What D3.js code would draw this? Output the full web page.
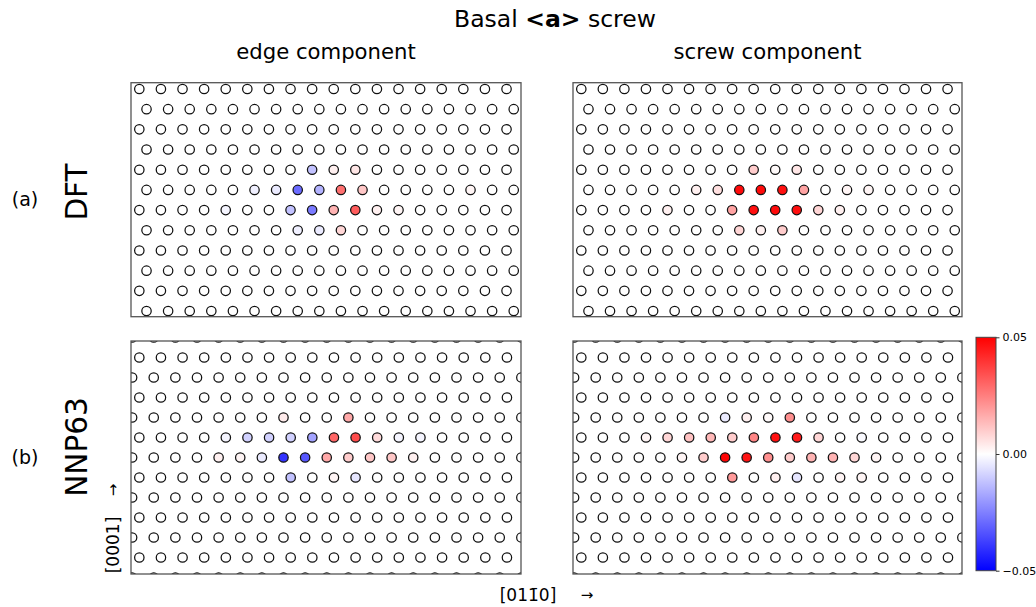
<!DOCTYPE html>
<html>
<head>
<meta charset="utf-8">
<script src="https://cdn.jsdelivr.net/npm/d3@7"></script>
<style>
  html, body { margin: 0; padding: 0; background: #fff; }
  svg text { font-family: "DejaVu Sans", sans-serif; fill: #000; }
</style>
</head>
<body>
<svg id="fig" width="1036" height="607"></svg>
<script>
// ---- Lattice layout (atom columns projected along the screw direction) ----
// Top row of panels: 12 rows x 18 columns, odd rows shifted by +1/3 column.
// Bottom row of panels: rows -1..11, odd rows shifted by -1/3 column (19 sites).
const topRows = [0, 1, 2, 3, 4, 5, 6, 7, 8, 9, 10, 11];
const bottomRows = [-1, 0, 1, 2, 3, 4, 5, 6, 7, 8, 9, 10, 11];
const topOddShift = 1 / 3;
const bottomOddShift = -1 / 3;
const topXView = [-0.385, 17.67];
const topYView = [-0.31, 11.28];
const bottomXView = [-0.385, 17.65];
const bottomYView = [-0.825, 10.825];

// ---- Displacement values (Å) for atoms that differ from zero: [row, site, value] ----
const dftEdge = [
  [4, 8, -0.012], [4, 9, 0.003], [4, 10, 0.005],
  [5, 5, -0.003], [5, 6, -0.004], [5, 7, -0.029], [5, 8, -0.015], [5, 9, 0.028], [5, 10, 0.011], [5, 15, 0.002],
  [6, 4, -0.002], [6, 7, -0.012], [6, 8, -0.026], [6, 9, 0.015], [6, 10, 0.032], [6, 11, 0.003], [6, 12, 0.002],
  [7, 7, -0.003], [7, 8, -0.004], [7, 9, 0.008]
];
const dftScrew = [
  [4, 8, 0.010], [4, 9, 0.001], [4, 10, 0.005],
  [5, 5, 0.003], [5, 6, 0.006], [5, 7, 0.048], [5, 8, 0.048], [5, 9, 0.047], [5, 10, 0.018], [5, 12, 0.002], [5, 13, 0.002],
  [6, 4, 0.003], [6, 7, 0.018], [6, 8, 0.047], [6, 9, 0.048], [6, 10, 0.047], [6, 11, 0.008], [6, 12, 0.003],
  [7, 7, 0.008], [7, 8, 0.003], [7, 9, 0.010]
];
const nnpEdge = [
  [3, 7, 0.004], [3, 10, 0.017],
  [4, 4, -0.002], [4, 5, -0.009], [4, 6, -0.009], [4, 7, -0.009], [4, 8, -0.018], [4, 9, 0.030], [4, 10, 0.035], [4, 11, 0.007], [4, 12, -0.002], [4, 13, -0.002],
  [5, 4, 0.003], [5, 5, 0.002], [5, 6, -0.004], [5, 7, -0.040], [5, 8, -0.033], [5, 9, 0.017], [5, 10, 0.010], [5, 11, 0.011], [5, 12, 0.011], [5, 13, 0.003],
  [6, 7, -0.012], [6, 9, 0.002], [6, 10, -0.005]
];
const nnpScrew = [
  [3, 7, -0.004], [3, 8, 0.003], [3, 9, 0.001], [3, 10, 0.022],
  [4, 3, 0.002], [4, 4, 0.008], [4, 5, 0.012], [4, 6, 0.014], [4, 7, 0.010], [4, 8, 0.024], [4, 9, 0.047], [4, 10, 0.045], [4, 11, 0.008], [4, 13, -0.001],
  [5, 5, 0.002], [5, 6, 0.010], [5, 7, 0.049], [5, 8, 0.046], [5, 9, 0.022], [5, 10, 0.010], [5, 11, 0.015], [5, 12, 0.015], [5, 13, 0.008], [5, 14, 0.002],
  [6, 7, 0.020], [6, 9, 0.003], [6, 10, -0.005], [6, 12, 0.002], [6, 13, 0.002]
];

// ---- Text ----
const suptitleParts = [["Basal ", "normal"], ["<a>", "bold"], [" screw", "normal"]];
const columnTitles = ["edge component", "screw component"];
const rowTags = ["(a)", "(b)"];
const rowNames = ["DFT", "NNP63"];
const verticalAxisLabel = "[0001]";
const horizontalAxisLabel = "[011\u03040]";
const colorTicks = [0.05, 0.00, -0.05];
const colorLimits = [-0.05, 0.05];

// ---- Figure geometry ----
const svg = d3.select("#fig");
const panelX = [[131, 521], [573, 962]];
const panelY = [[82.7, 316.7], [341, 574]];
const atomRadius = 4.7;

const color = d3.scaleLinear()
  .domain([colorLimits[0], 0, colorLimits[1]])
  .range(["#0000ff", "#ffffff", "#ff0000"])
  .clamp(true);

const panels = [
  { row: 0, col: 0, values: dftEdge },
  { row: 0, col: 1, values: dftScrew },
  { row: 1, col: 0, values: nnpEdge },
  { row: 1, col: 1, values: nnpScrew }
];

const defs = svg.append("defs");

panels.forEach((p, i) => {
  const [x0, x1] = panelX[p.col];
  const [y0, y1] = panelY[p.row];
  const isTop = p.row === 0;
  const rows = isTop ? topRows : bottomRows;
  const oddShift = isTop ? topOddShift : bottomOddShift;
  const x = d3.scaleLinear().domain(isTop ? topXView : bottomXView).range([x0, x1]);
  const y = d3.scaleLinear().domain(isTop ? topYView : bottomYView).range([y0, y1]);

  const lookup = new Map(p.values.map(([r, s, v]) => [r + ":" + s, v]));
  const atoms = [];
  rows.forEach(r => {
    const odd = Math.abs(r) % 2 === 1;
    const shift = odd ? oddShift : 0;
    const nSites = (odd && shift < 0) ? 19 : 18;
    for (let s = 0; s < nSites; s++) {
      atoms.push({ r, u: s + shift, v: lookup.get(r + ":" + s) || 0 });
    }
  });

  const clipId = "clip" + i;
  defs.append("clipPath").attr("id", clipId)
    .append("rect").attr("x", x0).attr("y", y0).attr("width", x1 - x0).attr("height", y1 - y0);

  const g = svg.append("g");
  g.append("g").attr("clip-path", `url(#${clipId})`)
    .selectAll("circle").data(atoms).join("circle")
    .attr("cx", d => x(d.u))
    .attr("cy", d => y(d.r))
    .attr("r", atomRadius)
    .attr("fill", d => color(d.v))
    .attr("stroke", "#111")
    .attr("stroke-width", 1.25);

  g.append("rect")
    .attr("x", x0).attr("y", y0).attr("width", x1 - x0).attr("height", y1 - y0)
    .attr("fill", "none").attr("stroke", "#555").attr("stroke-width", 1.3);
});

// ---- Titles ----
const sup = svg.append("text").attr("x", 555).attr("y", 27)
  .attr("text-anchor", "middle").attr("font-size", 23.5);
suptitleParts.forEach(([t, w]) => sup.append("tspan").attr("font-weight", w).text(t));

columnTitles.forEach((t, c) => {
  svg.append("text")
    .attr("x", (panelX[c][0] + panelX[c][1]) / 2).attr("y", 59)
    .attr("text-anchor", "middle").attr("font-size", 21.2).text(t);
});

// ---- Row labels ----
const rowCenters = [199, 457];
rowTags.forEach((t, r) => {
  svg.append("text").attr("x", 25).attr("y", rowCenters[r])
    .attr("text-anchor", "middle").attr("dominant-baseline", "central")
    .attr("font-size", 19).text(t);
});
const nameCenters = [192, 447];
rowNames.forEach((t, r) => {
  svg.append("text")
    .attr("transform", `translate(77,${nameCenters[r]}) rotate(-90)`)
    .attr("text-anchor", "middle").attr("dominant-baseline", "central")
    .attr("font-size", 29.5).text(t);
});

// ---- Crystal direction labels ----
svg.append("text")
  .attr("transform", "translate(113,545) rotate(-90)")
  .attr("text-anchor", "middle").attr("dominant-baseline", "central")
  .attr("font-size", 17).text(verticalAxisLabel);
svg.append("text")
  .attr("transform", "translate(113,490) rotate(-90)")
  .attr("text-anchor", "middle").attr("dominant-baseline", "central")
  .attr("font-size", 15).text("\u2192");
svg.append("text")
  .attr("x", 528).attr("y", 595)
  .attr("text-anchor", "middle").attr("dominant-baseline", "central")
  .attr("font-size", 17).text(horizontalAxisLabel);
svg.append("text")
  .attr("x", 587).attr("y", 595)
  .attr("text-anchor", "middle").attr("dominant-baseline", "central")
  .attr("font-size", 15).text("\u2192");

// ---- Colorbar ----
const cbX = 976, cbW = 20, cbTop = 337.3, cbBottom = 570.7;
const cbScale = d3.scaleLinear().domain(colorLimits).range([cbBottom, cbTop]);
const grad = defs.append("linearGradient").attr("id", "bwr")
  .attr("x1", 0).attr("y1", 1).attr("x2", 0).attr("y2", 0);
d3.range(0, 1.0001, 0.05).forEach(f => {
  grad.append("stop").attr("offset", f)
    .attr("stop-color", color(colorLimits[0] + f * (colorLimits[1] - colorLimits[0])));
});
svg.append("rect").attr("x", cbX).attr("y", cbTop).attr("width", cbW).attr("height", cbBottom - cbTop)
  .attr("fill", "url(#bwr)").attr("stroke", "#444").attr("stroke-width", 1);
const cbAxis = d3.axisRight(cbScale).tickValues(colorTicks)
  .tickSize(3.5).tickPadding(3)
  .tickFormat(d => d3.format(".2f")(d).replace("-", "\u2212"));
svg.append("g").attr("transform", `translate(${cbX + cbW},0)`).call(cbAxis)
  .call(g => g.select(".domain").remove())
  .call(g => g.selectAll("text").attr("font-size", 11).attr("font-family", "DejaVu Sans"))
  .call(g => g.selectAll("line").attr("stroke", "#333"));
</script>
</body>
</html>
